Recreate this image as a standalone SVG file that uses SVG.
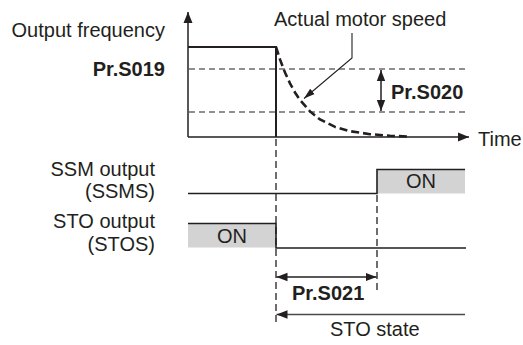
<svg xmlns="http://www.w3.org/2000/svg" width="523" height="345" viewBox="0 0 523 345">
<defs>
<style>
.t{font-family:"Liberation Sans",Arial,sans-serif;font-size:20px;fill:#231f20}
.b{font-weight:bold}
.ln{stroke:#231f20;stroke-width:1.5;fill:none}
.sig{stroke:#231f20;stroke-width:1.6;fill:none}
.dash{stroke:#231f20;stroke-width:1.2;stroke-dasharray:6 4;fill:none}
.vdash{stroke:#231f20;stroke-width:1.3;stroke-dasharray:7 4;fill:none}
.box{fill:#d3d3d4;stroke:none}
</style>
<marker id="ah" markerWidth="12" markerHeight="10" refX="11" refY="5" orient="auto" markerUnits="userSpaceOnUse">
<path d="M0,0.5 L11,5 L0,9.5 Z" fill="#231f20"/>
</marker>
<marker id="ahs" markerWidth="12" markerHeight="10" refX="11" refY="5" orient="auto-start-reverse" markerUnits="userSpaceOnUse">
<path d="M0,0.8 L11,5 L0,9.2 Z" fill="#231f20"/>
</marker>
<marker id="ahg" markerWidth="12" markerHeight="10" refX="11" refY="5" orient="auto" markerUnits="userSpaceOnUse">
<path d="M0,0.8 L11,5 L0,9.2 Z" fill="#231f20"/>
</marker>
<marker id="ahl" markerWidth="12" markerHeight="8" refX="11" refY="4" orient="auto" markerUnits="userSpaceOnUse">
<path d="M0,0.5 L11,4 L0,7.5 Z" fill="#231f20"/>
</marker>
</defs>
<rect width="523" height="345" fill="#fff"/>

<g id="freq-graph">
<line class="dash" x1="189" y1="69" x2="468" y2="69"/>
<line class="dash" x1="189" y1="112" x2="468" y2="112"/>
<line class="ln" x1="188" y1="137" x2="188" y2="12" marker-end="url(#ah)"/>
<line class="ln" x1="188" y1="137" x2="469" y2="137" marker-end="url(#ah)"/>
<path d="M188,47 L276,47 L276,137" stroke="#231f20" stroke-width="2" fill="none"/>
<path d="M276,47 L280,59.4 L285,72.5 L290,83.4 L295,92.5 L300,100 L310,111.4 L320,119.4 L335,126.9 L350,131.2 L370,134.2 L390,135.7 L407,136.5" stroke="#231f20" stroke-width="2.6" stroke-dasharray="8 4" fill="none"/>
</g>

<g id="labels-freq">
<text class="t" x="165" y="37" text-anchor="end">Output frequency</text>
<text class="t b" x="165" y="76" text-anchor="end">Pr.S019</text>
<text class="t" x="274" y="26">Actual motor speed</text>
<text class="t b" x="391" y="99">Pr.S020</text>
<text class="t" x="478" y="146">Time</text>
</g>

<g id="leader">
<path d="M352,33 L352,58 L304,98.5" stroke="#231f20" stroke-width="1.1" fill="none" marker-end="url(#ahl)"/>
</g>

<g id="s020-arrow">
<line class="ln" x1="381" y1="70" x2="381" y2="111" marker-start="url(#ahs)" marker-end="url(#ahs)"/>
</g>

<g id="ssm">
<rect class="box" x="377" y="169.5" width="88" height="24"/>
<path class="sig" d="M188,193.5 L377,193.5 L377,169.5 L465,169.5"/>
<text class="t" x="155" y="176" text-anchor="end">SSM output</text>
<text class="t" x="155" y="198" text-anchor="end">(SSMS)</text>
<text class="t" x="421" y="188" text-anchor="middle">ON</text>
</g>

<g id="sto">
<rect class="box" x="188" y="223.5" width="88" height="24"/>
<path class="sig" d="M188,223.5 L276,223.5 L276,248 L466,248"/>
<text class="t" x="155" y="228" text-anchor="end">STO output</text>
<text class="t" x="155" y="251" text-anchor="end">(STOS)</text>
<text class="t" x="232" y="243" text-anchor="middle">ON</text>
</g>

<g id="connectors">
<line class="vdash" x1="276" y1="139" x2="276" y2="323"/>
<line class="vdash" x1="377" y1="195" x2="377" y2="293"/>
<line class="ln" x1="276.5" y1="277" x2="376.5" y2="277" marker-start="url(#ahs)" marker-end="url(#ahs)"/>
<line x1="465" y1="314.5" x2="276.5" y2="314.5" stroke="#4a4a4a" stroke-width="1.6" marker-end="url(#ahg)"/>
</g>

<g id="timing-labels">
<text class="t b" x="292" y="300">Pr.S021</text>
<text class="t" x="330" y="336">STO state</text>
</g>
</svg>
